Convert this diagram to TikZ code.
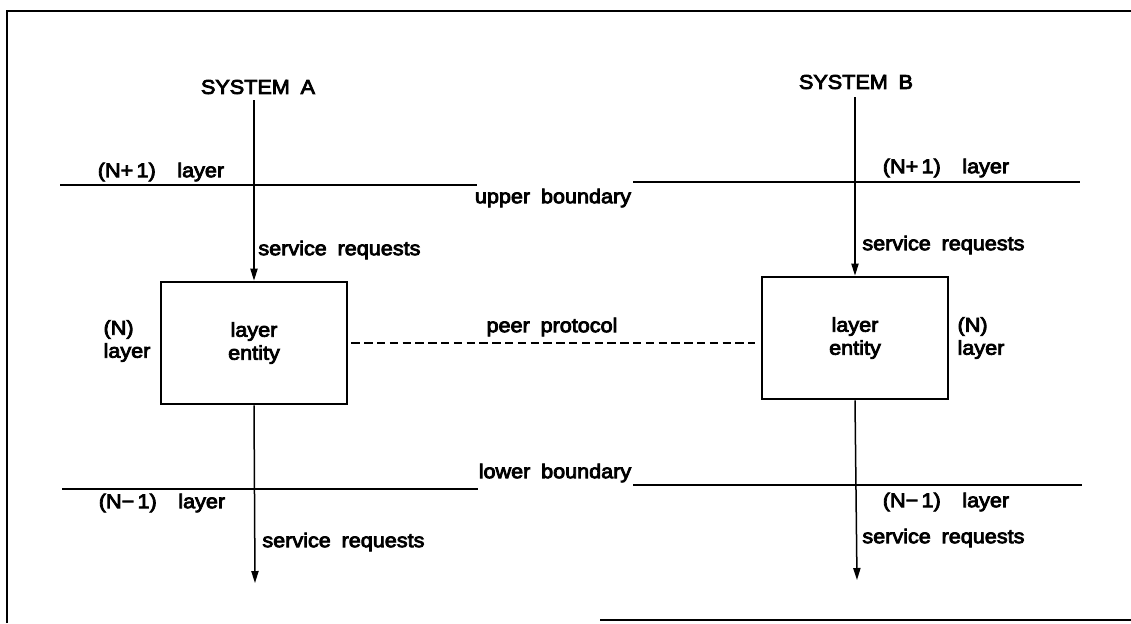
\documentclass[tikz,border=0pt]{standalone}
\usepackage{fontspec}
\setmainfont{Liberation Sans}[FakeStretch=1.08, FakeBold=4, WordSpace=1.8]
\usetikzlibrary{arrows.meta}
\begin{document}
\begin{tikzpicture}[x=0.5pt, y=-0.5pt,
  txt/.style={inner sep=0pt, font=\fontsize{10}{11.5}\selectfont},
  entity/.style={draw, line width=1.4pt, minimum width=93pt, minimum height=61pt,
    inner sep=0pt, align=center, font=\fontsize{10}{11.5}\selectfont},
  bound/.style={line width=1pt},
  frameline/.style={line width=1pt},
  req/.style={line width=0.75pt, -{Triangle[length=6pt, width=3.6pt]}},
  peer/.style={line width=0.8pt, dash pattern=on 4.2pt off 2.2pt}]
  \useasboundingbox (0,0) rectangle (1131,623);

  % page frame
  \coordinate (f1) at (6,11);
  \coordinate (f2) at (1131,11);
  \coordinate (f3) at (7,623);
  \coordinate (f4) at (600,620);
  \coordinate (f5) at (1131,620);
  \draw[frameline] (f3) -- (f3 |- f1) -- (f2);
  \draw[frameline] (f4) -- (f5);

  % system titles
  \node[txt] (sysA) at (258,87) {SYSTEM A};
  \node[txt] (sysB) at (856,82) {SYSTEM B};

  % layer entities
  \node[entity] (boxA) at (254,343) {layer\\entity};
  \node[entity] (boxB) at (855,338) {layer\\entity};

  % layer boundaries
  \coordinate (uA1) at (60,185);  \coordinate (uA2) at (477,185);
  \coordinate (uB1) at (633,182); \coordinate (uB2) at (1080,182);
  \coordinate (lA1) at (62,489);  \coordinate (lA2) at (478,489);
  \coordinate (lB1) at (633,485); \coordinate (lB2) at (1082,485);
  \draw[bound] (uA1) -- (uA2);
  \draw[bound] (uB1) -- (uB2);
  \draw[bound] (lA1) -- (lA2);
  \draw[bound] (lB1) -- (lB2);

  % service request flows
  \coordinate (topA) at (254,100);
  \coordinate (topB) at (855,97);
  \coordinate (endA) at (255,583);
  \coordinate (endB) at (857,580);
  \draw[req] (topA) -- (boxA.north);
  \draw[req] (topB) -- (boxB.north);
  \draw[req] (boxA.south) -- (endA);
  \draw[req] (boxB.south) -- (endB);

  % peer protocol
  \coordinate (pB) at (755,343);
  \draw[peer] ([xshift=1.5pt]boxA.east) -- (pB);

  % labels
  \node[txt] (nA1) at (161,172) {(N+\,1)\ \ layer};
  \node[txt] (nB1) at (946,168) {(N+\,1)\ \ layer};
  \node[txt] (ub) at (553,198) {upper boundary};
  \node[txt, anchor=west] (srA1) at (258,250) {service requests};
  \node[txt, anchor=west] (srB1) at (862,245) {service requests};
  \node[txt, align=left] (nA) at (127,341) {(N)\\layer};
  \node[txt, align=left] (nB) at (981,338) {(N)\\layer};
  \node[txt] (pp) at (552,327) {peer protocol};
  \node[txt] (lb) at (555,473) {lower boundary};
  \node[txt] (mA1) at (162,503) {(N−\,1)\ \ layer};
  \node[txt] (mB1) at (946,502) {(N−\,1)\ \ layer};
  \node[txt, anchor=west] (srA2) at (262,542) {service requests};
  \node[txt, anchor=west] (srB2) at (862,538) {service requests};
\end{tikzpicture}
\end{document}
